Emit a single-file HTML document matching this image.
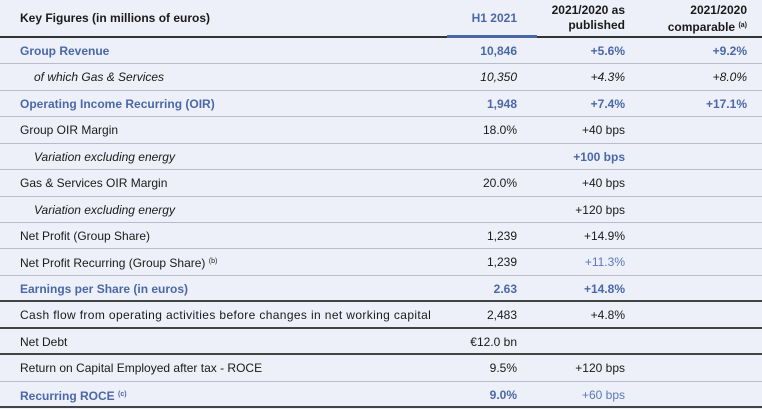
<!DOCTYPE html>
<html><head><style>
body{margin:0;width:762px;height:408px;background:#edf0f8;font-family:"Liberation Sans",sans-serif;font-size:12px;color:#1a1a1a;position:relative;overflow:hidden}
.h{position:absolute;top:0;left:0;width:762px;height:36px;border-bottom:2px solid #333}
.r{position:absolute;left:0;width:762px;height:26.43px;box-sizing:border-box;border-bottom:1.5px solid #b8bcc4}
.r div,.h div{position:absolute;top:0;line-height:26px;white-space:nowrap}
.l{left:20px}
.a{right:245px;text-align:right}
.b{right:137px;text-align:right}
.c{right:15px;text-align:right}
.bl{color:#4a68a8;font-weight:bold}
.i{font-style:italic}
.ind{left:34px!important}
.dk{border-bottom:2px solid #444}
sup{font-size:7px;vertical-align:4px}
.lb{color:#5a78b8}
</style></head><body>
<div class="h">
<div class="l" style="line-height:36px;font-weight:bold">Key Figures (in millions of euros)</div>
<div class="a" style="line-height:36px;font-weight:bold;color:#4a68a8">H1 2021</div>
<div class="b" style="top:3px;line-height:15px;font-weight:bold">2021/2020 as<br>published</div>
<div class="c" style="top:3px;line-height:15px;font-weight:bold">2021/2020<br>comparable <sup>(a)</sup></div>
</div>
<div style="position:absolute;left:447px;top:35px;width:90px;height:3px;background:#4a68a8"></div>

<div class="r" style="top:38px"><div class="l bl">Group Revenue</div><div class="a bl">10,846</div><div class="b bl">+5.6%</div><div class="c bl">+9.2%</div></div>
<div class="r i" style="top:64.4px"><div class="l ind">of which Gas &amp; Services</div><div class="a">10,350</div><div class="b">+4.3%</div><div class="c">+8.0%</div></div>
<div class="r" style="top:90.9px"><div class="l bl">Operating Income Recurring (OIR)</div><div class="a bl">1,948</div><div class="b bl">+7.4%</div><div class="c bl">+17.1%</div></div>
<div class="r" style="top:117.3px"><div class="l">Group OIR Margin</div><div class="a">18.0%</div><div class="b">+40 bps</div></div>
<div class="r" style="top:143.7px"><div class="l ind i">Variation excluding energy</div><div class="b bl">+100 bps</div></div>
<div class="r" style="top:170.2px"><div class="l">Gas &amp; Services OIR Margin</div><div class="a">20.0%</div><div class="b">+40 bps</div></div>
<div class="r" style="top:196.6px"><div class="l ind i">Variation excluding energy</div><div class="b">+120 bps</div></div>
<div class="r" style="top:223px"><div class="l">Net Profit (Group Share)</div><div class="a">1,239</div><div class="b">+14.9%</div></div>
<div class="r" style="top:249.4px"><div class="l">Net Profit Recurring (Group Share) <sup>(b)</sup></div><div class="a">1,239</div><div class="b lb">+11.3%</div></div>
<div class="r dk" style="top:275.9px"><div class="l bl">Earnings per Share (in euros)</div><div class="a bl">2.63</div><div class="b bl">+14.8%</div></div>
<div class="r dk" style="top:302.3px"><div class="l" style="letter-spacing:0.37px">Cash flow from operating activities before changes in net working capital</div><div class="a">2,483</div><div class="b">+4.8%</div></div>
<div class="r dk" style="top:328.7px"><div class="l">Net Debt</div><div class="a">€12.0 bn</div></div>
<div class="r" style="top:355.1px"><div class="l">Return on Capital Employed after tax - ROCE</div><div class="a">9.5%</div><div class="b">+120 bps</div></div>
<div class="r dk" style="top:381.6px"><div class="l bl">Recurring ROCE <sup>(c)</sup></div><div class="a bl">9.0%</div><div class="b lb">+60 bps</div></div>
</body></html>
